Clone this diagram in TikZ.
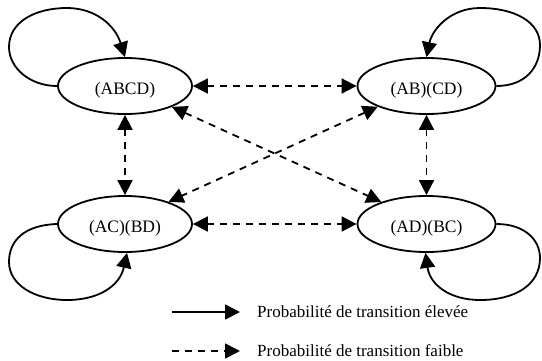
\documentclass[tikz,border=0pt]{standalone}
\usepackage{fontspec}
\setmainfont{Liberation Serif}
\usetikzlibrary{arrows.meta,shapes.geometric}
\newcommand{\lowT}[1]{\raisebox{-8pt}[0pt][0pt]{#1}}
\tikzset{
  tip/.tip={Triangle[length=15pt,width=15pt]},
  state/.style={draw,ellipse,line width=1.8pt,inner sep=0pt,minimum height=56pt,font=\fontsize{17.5}{20}\selectfont},
  hi/.style={line width=1.8pt,-tip},
  lo/.style={line width=1.8pt,dash pattern=on 7pt off 6pt,tip-tip},
  lolegend/.style={line width=1.8pt,dash pattern=on 7pt off 6pt,-tip},
  legtext/.style={anchor=base west,inner sep=0pt,font=\fontsize{17}{20}\selectfont}
}
\begin{document}
\begin{tikzpicture}[x=1pt,y=-1pt]
\useasboundingbox[fill=white] (0,0) rectangle (542,360);
\node[state,minimum width=134pt] (a) at (125,86) {\lowT{(ABCD)}};
\node[state,minimum width=138pt] (b) at (426.5,86) {\lowT{(AB)(CD)}};
\node[state,minimum width=134pt] (c) at (125,224) {\lowT{(AC)(BD)}};
\node[state,minimum width=138pt] (d) at (426.5,224) {\lowT{(AD)(BC)}};
% self loops
\draw[hi] (a.west) .. controls (30,86) and (9,68) .. (9,47)
  .. controls (9,22) and (35,8) .. (67,8)
  .. controls (95,8) and (115,25) .. (a.north);
\draw[hi] (b.east) .. controls (525,86) and (540,68) .. (540,45)
  .. controls (540,22) and (515,8) .. (480,8)
  .. controls (450,8) and (432,30) .. (b.north);
\draw[hi] (c.west) .. controls (25,225) and (9,240) .. (9,262)
  .. controls (9,285) and (35,300) .. (67,300)
  .. controls (100,300) and (120,285) .. (c.-86);
\draw[hi] (d.east) .. controls (525,224) and (540,240) .. (540,258)
  .. controls (540,285) and (515,300) .. (480,300)
  .. controls (450,300) and (430,285) .. (d.-92);
% dashed transitions
\draw[lo] (a.east) -- (b.west);
\draw[lo] (c.east) -- (d.west);
\draw[lo] (a.south) -- (c.north);
\draw[lo] (b.south) -- (d.north);
\draw[lo] (a.-24) -- (d.154);
\draw[lo] (b.-157) -- (c.27);
% legend
\coordinate (l1s) at (172,312);
\coordinate (l1e) at (240,312);
\coordinate (l2s) at (172,351);
\coordinate (l2e) at (240,351);
\draw[hi] (l1s) -- (l1e);
\draw[lolegend] (l2s) -- (l2e);
\node[legtext] (t1) at (257,317) {Probabilité de transition élevée};
\node[legtext] (t2) at (257,356) {Probabilité de transition faible};
\end{tikzpicture}
\end{document}
